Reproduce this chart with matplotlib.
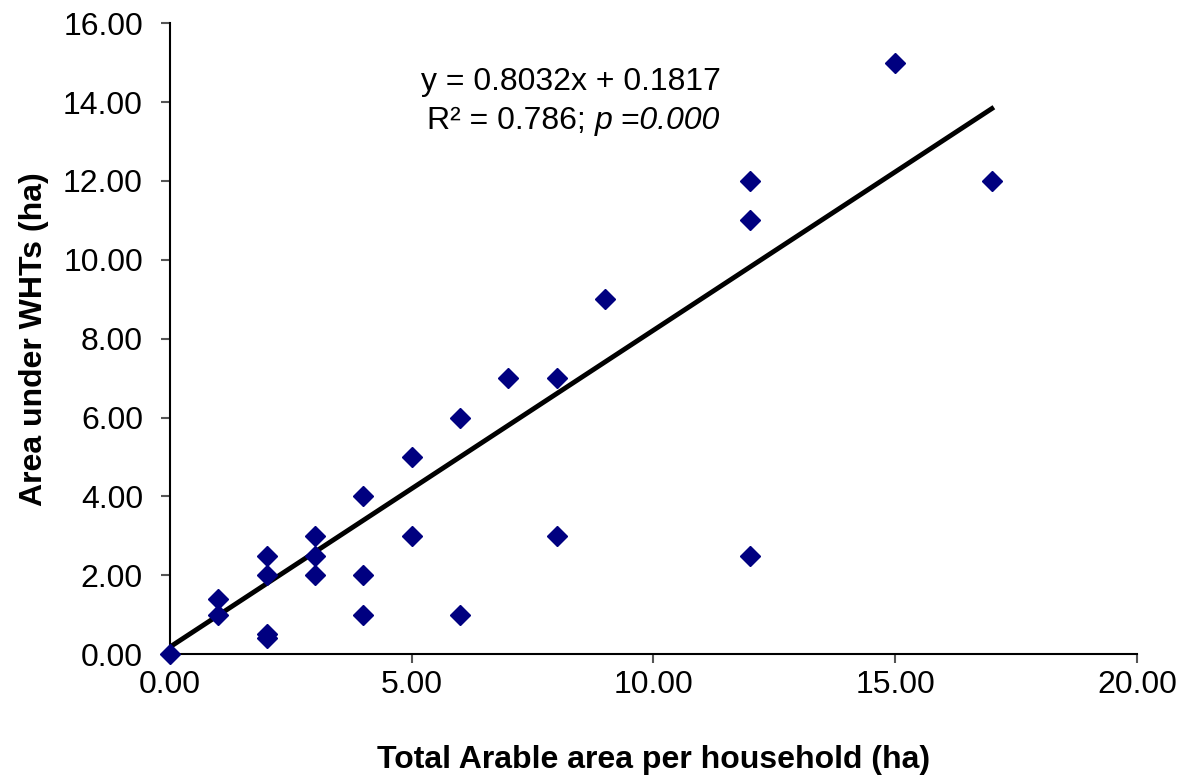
import numpy as np
import matplotlib.pyplot as plt

plt.rcParams['font.family'] = ['Liberation Sans', 'DejaVu Sans']

# arable area per household (ha) vs area under WHTs (ha)
total_area = [0, 1, 1, 2, 2, 2, 2, 3, 3, 3, 4, 4, 4, 5, 5, 6, 6, 7, 8, 8, 9, 12, 12, 12, 15, 17]
wht_area = [0, 1.4, 1, 2.5, 2, 0.5, 0.4, 3, 2.5, 2, 4, 2, 1, 5, 3, 6, 1, 7, 7, 3, 9, 12, 11, 2.5, 15, 12]

slope = 0.8032
intercept = 0.1817

fig = plt.figure(figsize=(11.84, 7.75), dpi=100)
ax = fig.add_axes([0.1436, 0.156, 0.8166, 0.814])

x_line = np.array([0, max(total_area)])
ax.plot(x_line, slope * x_line + intercept, color='black', lw=3.5, zorder=2)
ax.plot(total_area, wht_area, linestyle='none', marker='D', ms=10,
        color='#000080', zorder=3, clip_on=False)

ax.set_xlim(0, 20)
ax.set_ylim(0, 16)
ax.set_xticks(np.arange(0, 21, 5))
ax.set_yticks(np.arange(0, 17, 2))
ax.xaxis.set_major_formatter(plt.FormatStrFormatter('%.2f'))
ax.yaxis.set_major_formatter(plt.FormatStrFormatter('%.2f'))
ax.tick_params(labelsize=23, length=6.5, width=1.5, color='#555555')
ax.tick_params(axis='y', pad=13)
ax.tick_params(axis='x', pad=5)

for s in ['top', 'right']:
    ax.spines[s].set_visible(False)
for s in ['left', 'bottom']:
    ax.spines[s].set_linewidth(1.5)

ax.set_xlabel('Total Arable area per household (ha)', fontsize=23, fontweight='bold', labelpad=32)
ax.set_ylabel('Area under WHTs (ha)', fontsize=23, fontweight='bold', labelpad=10)

ax.text(8.3, 14.5, 'y = 0.8032x + 0.1817', fontsize=23, ha='center', va='center')
ax.text(8.60, 13.52, 'R² = 0.786;', fontsize=23, ha='right', va='center')
ax.text(8.78, 13.52, 'p =0.000', fontsize=23, ha='left', va='center', style='italic')

fig.savefig('out.png', dpi=100)
